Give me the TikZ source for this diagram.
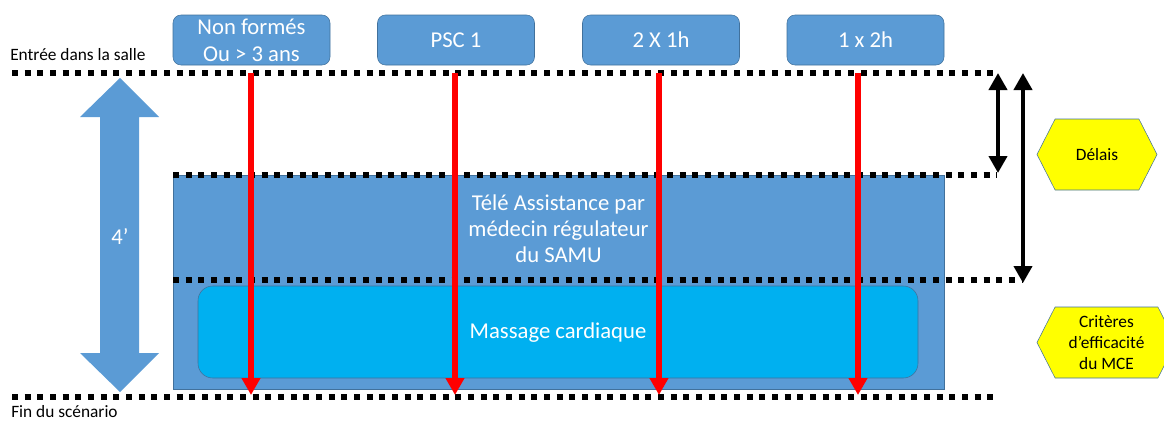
\documentclass[tikz,border=0pt]{standalone}
\usepackage{fontspec}
\setmainfont{Carlito}
\usetikzlibrary{arrows.meta,shapes.symbols}

\definecolor{boxblue}{HTML}{5B9BD5}
\definecolor{boxedge}{HTML}{41719C}
\definecolor{massblue}{HTML}{00B0F0}
\definecolor{hexyellow}{HTML}{FFFF00}

\begin{document}
\begin{tikzpicture}[x=0.75pt,y=-0.75pt,
    topbox/.style={draw=boxedge,fill=boxblue,rounded corners=6pt,
      minimum width=117.75pt,minimum height=37.5pt,inner sep=1pt,
      text=white,align=center,font=\fontsize{17}{20}\selectfont},
    dotline/.style={line width=4.5pt,dash pattern=on 4.5pt off 5pt},
    redarrow/.style={red,line width=4.5pt,-{Triangle[width=13.5pt,length=12.75pt]}},
    blackarrow/.style={black,line width=3pt,
      {Triangle[width=13.5pt,length=12.75pt]}-{Triangle[width=13.5pt,length=12.75pt]}},
    hexa/.style={shape=signal,signal to=west and east,signal pointer angle=126,
      draw=boxedge,fill=hexyellow,inner sep=0pt,minimum height=53.25pt,
      align=center,font=\fontsize{13}{16}\selectfont},
    sidelabel/.style={font=\fontsize{13}{16}\selectfont,inner sep=0pt}]

    % size of the picture
      \useasboundingbox (0,0) rectangle (1164,421);

    % levels of the dotted lines
      \def\ytop{73}
      \def\ytele{175}
      \def\ymass{280}
      \def\ybot{397}
    % position of the red arrows
      \def\xone{251}
      \def\xtwo{455}
      \def\xthree{659}
      \def\xfour{858}

    % Draw the course boxes
      \node[topbox] (nonform) at (251.5,40) {Non formés\\Ou > 3 ans};
      \node[topbox] (psc)     at (456,40)   {PSC 1};
      \node[topbox] (twoone)  at (661,40)   {2 X 1h};
      \node[topbox] (onetwo)  at (865.5,40) {1 x 2h};

    % Draw the side labels
      \node[sidelabel,anchor=base west] (entree) at (10,60)  {Entrée dans la salle};
      \node[sidelabel,anchor=base west] (fin)    at (11,417) {Fin du scénario};

    % Draw the big double arrow
      \fill[boxblue] (120,78) -- (159,117) -- (139,117) -- (139,353) -- (159,353)
        -- (120,392) -- (80,353) -- (100,353) -- (100,117) -- (80,117) -- cycle;
      \node[text=white,font=\fontsize{17}{20}\selectfont] (duree) at (120,237) {4’};

    % Draw the assistance and massage blocks
      \draw[boxedge,fill=boxblue] (173,\ytele) rectangle (944,389);
      \node[text=white,align=center,font=\fontsize{17}{19.5}\selectfont] (tele)
        at (558.5,229) {Télé Assistance par\\médecin régulateur\\du SAMU};
      \draw[boxedge,fill=massblue,rounded corners=11pt] (198,286) rectangle (918,378);
      \node[text=white,font=\fontsize{17}{20}\selectfont] (massage)
        at (558,333) {Massage cardiaque};

    % Draw the dotted lines
      \draw[dotline] (12,\ytop)   -- (993,\ytop);
      \draw[dotline] (173,\ytele) -- (997,\ytele);
      \draw[dotline] (173,\ymass) -- (1022,\ymass);
      \draw[dotline] (12,\ybot)   -- (993,\ybot);

    % Draw the red arrows
      \coordinate (start1) at (\xone,\ytop);   \coordinate (end1) at (\xone,395);
      \coordinate (start2) at (\xtwo,\ytop);   \coordinate (end2) at (\xtwo,395);
      \coordinate (start3) at (\xthree,\ytop); \coordinate (end3) at (\xthree,395);
      \coordinate (start4) at (\xfour,\ytop);  \coordinate (end4) at (\xfour,395);
      \draw[redarrow] (start1) -- (end1);
      \draw[redarrow] (start2) -- (end2);
      \draw[redarrow] (start3) -- (end3);
      \draw[redarrow] (start4) -- (end4);

    % Draw the delay arrows
      \coordinate (delaytop)  at (998,\ytop);  \coordinate (delaybot)  at (998,173);
      \coordinate (totaltop)  at (1023,\ytop); \coordinate (totalbot)  at (1023,283);
      \draw[blackarrow] (delaytop) -- (delaybot);
      \draw[blackarrow] (totaltop) -- (totalbot);

    % Draw the yellow labels
      \node[hexa,minimum width=90pt]     (delais)   at (1097,154.5) {Délais};
      \node[hexa,minimum width=104.25pt] (criteres) at (1106.5,342.5)
        {Critères\\d’efficacité\\du MCE};

\end{tikzpicture}
\end{document}
